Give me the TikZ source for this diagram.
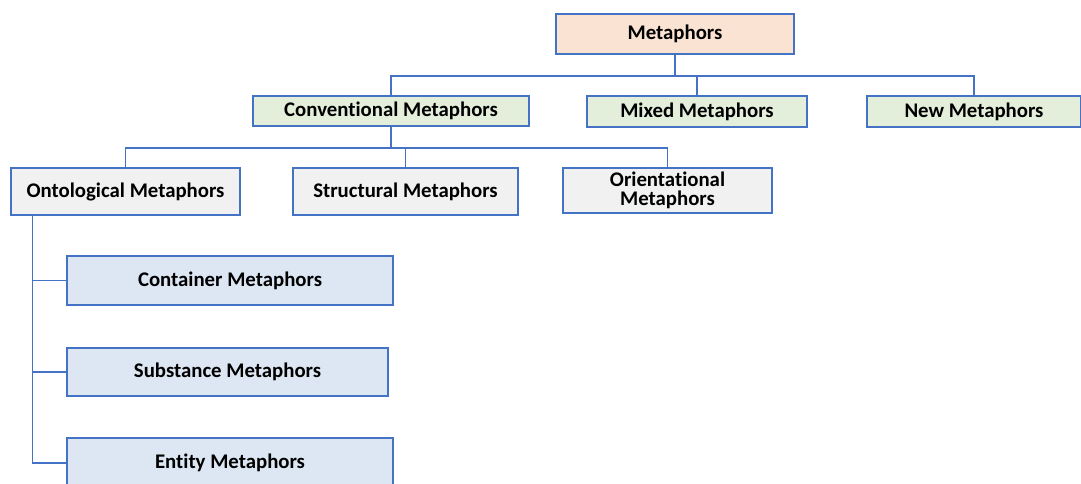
\documentclass[tikz,border=0pt]{standalone}
\usepackage{fontspec}
\setmainfont[Ligatures=NoCommon]{Carlito}
\usepackage{tikz}
\usetikzlibrary{positioning, calc}

\definecolor{boxblue}{HTML}{4472C4}
\definecolor{rootfill}{HTML}{FBE3D3}
\definecolor{greenfill}{HTML}{E3EFDA}
\definecolor{grayfill}{HTML}{F1F1F1}
\definecolor{bluefill}{HTML}{DCE7F3}

\tikzset{
  box/.style={draw=boxblue, line width=0.8pt, inner sep=0pt, align=center,
    font=\bfseries\fontsize{10.4}{9.6}\selectfont},
  rootbox/.style={box, fill=rootfill},
  greenbox/.style={box, fill=greenfill},
  graybox/.style={box, fill=grayfill},
  bluebox/.style={box, fill=bluefill},
  link/.style={draw=boxblue, line width=0.6pt}
}

\begin{document}
\begin{tikzpicture}[x=0.5pt, y=-0.5pt]
      \clip (0, 0) rectangle (1081, 483);

      \node[rootbox, minimum width=119pt, minimum height=20pt] (meta) at (675, 34) {Metaphors};

      \node[greenbox, minimum width=138pt, minimum height=15pt] (conv) at (391, 111) {Conventional Metaphors};
      \node[greenbox, minimum width=110pt, minimum height=15.5pt] (mixed) at (697, 111.5) {Mixed Metaphors};
      \node[greenbox, minimum width=107pt, minimum height=15.5pt] (new) at (974, 111.5) {New Metaphors};

      \node[graybox, minimum width=114.5pt, minimum height=23.5pt] (onto) at (125.5, 191.5) {Ontological Metaphors};
      \node[graybox, minimum width=112.5pt, minimum height=23.5pt] (struct) at (405.5, 191.5) {Structural Metaphors};
      \node[graybox, minimum width=104.5pt, minimum height=22.5pt] (orient) at (667.5, 190.5) {Orientational\\Metaphors};

      \node[bluebox, minimum width=163pt, minimum height=24.5pt] (cont) at (230, 280.5) {Container Metaphors};
      \node[bluebox, minimum width=160.5pt, minimum height=24pt] (subst) at (227.5, 372) {Substance Metaphors};
      \node[bluebox, minimum width=163pt, minimum height=25pt] (entity) at (230, 463) {Entity Metaphors};

      % first level
      \coordinate (bus1) at (675, 76);
      \draw[link] (meta.south) -- (bus1);
      \draw[link] (conv.north) |- (bus1) -| (new.north);
      \draw[link] (mixed.north) -- (mixed.north |- bus1);

      % second level
      \coordinate (bus2) at (391, 148);
      \draw[link] (conv.south) -- (bus2);
      \draw[link] (onto.north) |- (bus2) -| (orient.north);
      \draw[link] (struct.north) -- (struct.north |- bus2);

      % ontological branches
      \coordinate (trunk) at ([xshift=11pt]onto.south west);
      \draw[link] (trunk) |- (cont.west);
      \draw[link] (trunk) |- (entity.west);
      \draw[link] (subst.west) -- (subst.west -| trunk);

    \end{tikzpicture}
\end{document}
